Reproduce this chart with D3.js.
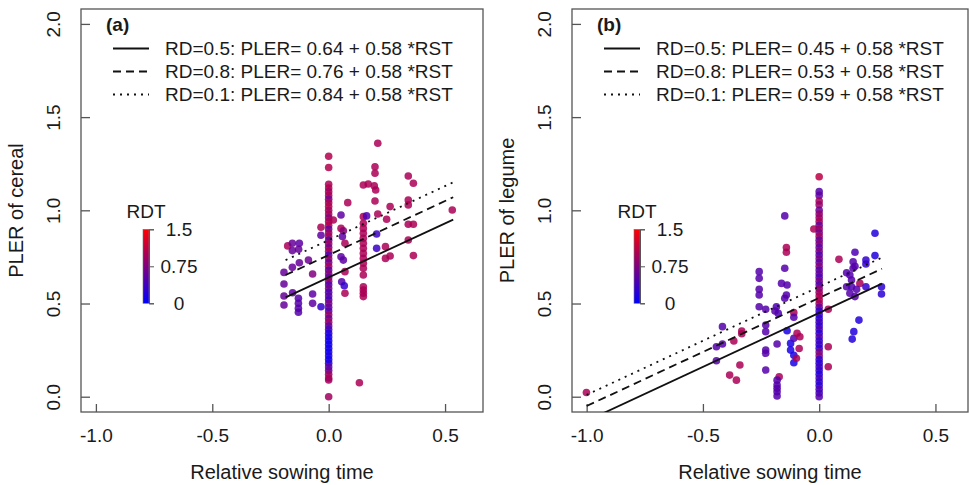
<!DOCTYPE html>
<html>
<head>
<meta charset="utf-8">
<script src="https://cdn.jsdelivr.net/npm/d3@7"></script>
<style>
  body { margin: 0; background: #fff; }
  text { font-family: "Liberation Sans", Arial, sans-serif; fill: #1a1a1a; }
</style>
</head>
<body>
<div id="chart"></div>
<script>
const width = 969;
const height = 485;

const xTicks = [-1, -0.5, 0, 0.5];
const xTickLabels = ["-1.0", "-0.5", "0.0", "0.5"];
const yTicks = [0, 0.5, 1, 1.5, 2];
const yTickLabels = ["0.0", "0.5", "1.0", "1.5", "2.0"];
const rdtTicks = [0, 0.75, 1.5];
const rdtTickLabels = ["0", "0.75", "1.5"];

const rdLabels = ["RD=0.5", "RD=0.8", "RD=0.1"];
const slope = 0.58;
const cerealIntercepts = [0.64, 0.76, 0.84];
const legumeIntercepts = [0.45, 0.53, 0.59];
const cerealFitRange = [-0.185, 0.535];
const legumeFitRange = [-1.0, 0.27];

// [RST, PLER, RDT]
const cerealPoints = [
  [-0.176, 0.809, 1.0], [-0.156, 0.823, 0.6], [-0.126, 0.823, 0.55], [-0.156, 0.784, 0.6],
  [-0.129, 0.791, 0.6], [-0.192, 0.667, 0.6], [-0.156, 0.694, 0.6], [-0.126, 0.719, 0.6],
  [-0.087, 0.733, 0.65], [-0.069, 0.658, 0.75], [-0.192, 0.605, 0.6], [-0.192, 0.540, 0.6],
  [-0.192, 0.492, 0.6], [-0.155, 0.558, 0.55], [-0.130, 0.528, 0.5], [-0.130, 0.501, 0.5],
  [-0.130, 0.474, 0.5], [-0.130, 0.453, 0.5], [-0.069, 0.551, 0.55], [-0.069, 0.501, 0.55],
  [-0.033, 0.483, 0.3], [-0.033, 0.909, 1.0], [-0.033, 0.866, 0.55],
  // RST = 0 column
  [0, 1.29, 1.05], [0, 1.23, 1.05], [0, 1.14, 1.0], [0, 1.12, 1.05], [0, 1.10, 0.95], [0, 1.08, 1.0],
  [0, 1.06, 0.7], [0, 1.04, 1.0], [0, 1.02, 1.05], [0, 1.00, 0.95], [0, 0.98, 1.0], [0, 0.96, 0.8],
  [0, 0.94, 1.0], [0, 0.92, 1.05], [0, 0.90, 0.6], [0, 0.88, 0.9], [0, 0.86, 1.0], [0, 0.84, 0.55],
  [0, 0.82, 0.95], [0, 0.80, 0.7], [0, 0.78, 1.0], [0, 0.76, 0.5], [0, 0.74, 0.9], [0, 0.72, 0.65],
  [0, 0.70, 1.0], [0, 0.68, 0.55], [0, 0.66, 0.8], [0, 0.64, 0.6], [0, 0.62, 0.9], [0, 0.60, 0.5],
  [0, 0.58, 0.7], [0, 0.56, 0.45], [0, 0.54, 0.55], [0, 0.52, 0.4], [0, 0.50, 0.75], [0, 0.48, 0.6],
  [0, 0.46, 0.5], [0, 0.44, 0.9], [0, 0.42, 0.65], [0, 0.40, 0.95], [0, 0.38, 0.6], [0, 0.36, 0.4],
  [0, 0.34, 0.2], [0, 0.32, 0.15], [0, 0.30, 0.12], [0, 0.28, 0.1], [0, 0.26, 0.12], [0, 0.24, 0.1],
  [0, 0.22, 0.15], [0, 0.20, 0.1], [0, 0.18, 0.2], [0, 0.16, 0.55], [0, 0.14, 0.6], [0, 0.12, 0.9],
  [0, 0.10, 1.0], [0, 0.09, 0.95], [0, 0.0, 0.95],
  // right of zero
  [0.020, 0.948, 1.0], [0.053, 0.975, 0.55], [0.053, 0.903, 1.0], [0.063, 0.890, 0.8],
  [0.059, 0.859, 0.55], [0.053, 0.751, 0.55], [0.063, 0.733, 0.55], [0.070, 0.823, 1.0],
  [0.070, 0.671, 1.0], [0.056, 0.617, 0.5], [0.067, 0.595, 0.3], [0.070, 0.555, 1.0],
  [0.082, 1.041, 1.0], [0.132, 0.075, 1.0],
  [0.149, 1.136, 1.0], [0.149, 0.966, 1.0], [0.149, 0.930, 1.0], [0.149, 0.903, 1.0], [0.149, 0.877, 1.0],
  [0.149, 0.850, 1.0], [0.149, 0.823, 1.0], [0.149, 0.796, 1.0], [0.149, 0.769, 1.0], [0.149, 0.742, 1.0],
  [0.149, 0.716, 1.0], [0.149, 0.689, 1.0], [0.149, 0.653, 1.0], [0.149, 0.590, 1.0], [0.149, 0.572, 1.0],
  [0.149, 0.555, 1.0], [0.149, 0.537, 1.0],
  [0.170, 1.141, 1.0], [0.196, 1.131, 1.0], [0.202, 1.109, 1.0], [0.199, 1.234, 1.0], [0.199, 1.199, 1.0],
  [0.199, 1.050, 1.0], [0.211, 1.360, 1.0], [0.163, 0.970, 0.45], [0.211, 0.980, 1.0], [0.249, 0.952, 1.0],
  [0.264, 1.020, 1.0], [0.206, 0.873, 0.35], [0.206, 0.796, 0.35], [0.244, 0.805, 1.0], [0.244, 0.742, 1.0],
  [0.264, 0.755, 1.0], [0.342, 1.184, 1.0], [0.364, 1.145, 1.0], [0.342, 1.055, 1.0], [0.342, 1.029, 1.0],
  [0.342, 0.925, 1.0], [0.364, 0.925, 1.0], [0.342, 0.841, 1.0], [0.364, 0.757, 1.0], [0.531, 1.002, 1.0]
];

const legumePoints = [
  [-1.001, 0.023, 1.0], [-0.416, 0.376, 0.5], [-0.442, 0.268, 0.5], [-0.416, 0.283, 0.5],
  [-0.442, 0.193, 0.5], [-0.367, 0.299, 1.0], [-0.333, 0.352, 1.0], [-0.333, 0.338, 1.0],
  [-0.385, 0.116, 1.0], [-0.356, 0.089, 1.0], [-0.341, 0.170, 1.0],
  [-0.258, 0.671, 0.5], [-0.258, 0.635, 0.5], [-0.258, 0.576, 0.5], [-0.258, 0.546, 0.5], [-0.258, 0.483, 0.5],
  [-0.230, 0.469, 0.5], [-0.230, 0.385, 0.5], [-0.230, 0.349, 0.5], [-0.230, 0.250, 0.5], [-0.230, 0.233, 0.5],
  [-0.230, 0.143, 0.5], [-0.184, 0.483, 0.45], [-0.176, 0.447, 0.45], [-0.190, 0.460, 0.5],
  [-0.181, 0.283, 0.5], [-0.172, 0.107, 1.0],
  [-0.181, 0.089, 0.5], [-0.181, 0.063, 0.5], [-0.181, 0.045, 0.5], [-0.181, 0.027, 0.5], [-0.181, 0.004, 0.5],
  [-0.148, 0.970, 0.5], [-0.141, 0.800, 1.0], [-0.141, 0.775, 1.0], [-0.148, 0.689, 0.5],
  [-0.162, 0.608, 0.5], [-0.138, 0.599, 0.5], [-0.141, 0.546, 0.5], [-0.148, 0.528, 0.5],
  [-0.109, 0.451, 1.0], [-0.109, 0.426, 0.5], [-0.138, 0.354, 0.15], [-0.123, 0.286, 0.15],
  [-0.123, 0.250, 0.15], [-0.109, 0.222, 0.15], [-0.109, 0.182, 0.15], [-0.109, 0.313, 0.45],
  [-0.095, 0.340, 1.0], [-0.083, 0.322, 1.0], [-0.086, 0.259, 1.0], [-0.098, 0.206, 1.0],
  [-0.023, 0.900, 1.0],
  // RST = 0 column
  [0, 1.18, 1.1], [0, 1.10, 0.5], [0, 1.08, 0.55], [0, 1.05, 0.95], [0, 1.03, 0.9], [0, 1.00, 0.6],
  [0, 0.98, 0.85], [0, 0.96, 0.9], [0, 0.94, 1.0], [0, 0.92, 0.6], [0, 0.90, 0.9], [0, 0.88, 0.7],
  [0, 0.86, 0.95], [0, 0.84, 0.6], [0, 0.82, 0.8], [0, 0.80, 0.55], [0, 0.78, 0.75], [0, 0.76, 0.5],
  [0, 0.74, 0.7], [0, 0.72, 0.55], [0, 0.70, 0.8], [0, 0.68, 0.5], [0, 0.66, 0.6], [0, 0.64, 0.45],
  [0, 0.62, 0.7], [0, 0.60, 0.5], [0, 0.58, 0.8], [0, 0.56, 0.9], [0, 0.54, 1.0], [0, 0.52, 1.05],
  [0, 0.50, 0.95], [0, 0.48, 0.6], [0, 0.46, 0.3], [0, 0.44, 0.35], [0, 0.42, 0.25], [0, 0.40, 0.4],
  [0, 0.38, 0.3], [0, 0.36, 0.45], [0, 0.34, 0.25], [0, 0.32, 0.5], [0, 0.30, 0.3], [0, 0.28, 0.35],
  [0, 0.26, 0.25], [0, 0.24, 0.7], [0, 0.22, 0.8], [0, 0.20, 0.3], [0, 0.18, 0.25], [0, 0.16, 0.35],
  [0, 0.14, 0.3], [0, 0.12, 0.2], [0, 0.10, 0.4], [0, 0.08, 0.3], [0, 0.06, 0.25], [0, 0.04, 0.45],
  [0, 0.02, 0.4], [0, 0.0, 0.5],
  // right of zero
  [0.039, 0.469, 1.0], [0.039, 0.268, 1.0], [0.039, 0.161, 1.0], [0.085, 0.737, 1.0],
  [0.118, 0.665, 0.5], [0.118, 0.590, 0.5], [0.132, 0.653, 0.5], [0.146, 0.724, 0.5],
  [0.154, 0.700, 0.5], [0.146, 0.689, 0.5], [0.154, 0.775, 0.45], [0.139, 0.626, 0.5],
  [0.175, 0.608, 1.0], [0.132, 0.555, 0.5], [0.154, 0.537, 0.5], [0.139, 0.590, 0.45],
  [0.161, 0.576, 0.5], [0.171, 0.411, 0.2], [0.149, 0.349, 0.2], [0.142, 0.309, 0.2],
  [0.201, 0.733, 0.3], [0.201, 0.712, 0.3], [0.201, 0.590, 0.3], [0.240, 0.877, 0.2],
  [0.240, 0.757, 0.2], [0.268, 0.590, 0.25], [0.268, 0.551, 0.25]
];

const lineDash = [null, "8,5", "2,5"];
const color = d3.scaleLinear().domain([0, 1.5]).range(["blue", "red"]).interpolate(d3.interpolateRgb);

const svg = d3.select("#chart").append("svg")
  .attr("width", width)
  .attr("height", height);

const defs = svg.append("defs");
const grad = defs.append("linearGradient")
  .attr("id", "rdtGrad")
  .attr("x1", 0).attr("y1", 1).attr("x2", 0).attr("y2", 0);
d3.range(0, 1.51, 0.25).forEach(v => {
  grad.append("stop").attr("offset", v / 1.5).attr("stop-color", color(v));
});

const panels = [
  { id: "a", tag: "(a)", ylabel: "PLER of cereal", points: cerealPoints, intercepts: cerealIntercepts,
    fit: cerealFitRange, left: 81, right: 483, xdom: [-1.064, 0.663] },
  { id: "b", tag: "(b)", ylabel: "PLER of legume", points: legumePoints, intercepts: legumeIntercepts,
    fit: legumeFitRange, left: 572, right: 968, xdom: [-1.063, 0.640] }
];

const plotTop = 9, plotBottom = 412;
const y = d3.scaleLinear().domain([-0.082, 2.08]).range([plotBottom, plotTop]);

panels.forEach(p => {
  const x = d3.scaleLinear().domain(p.xdom).range([p.left, p.right]);
  const g = svg.append("g");

  defs.append("clipPath").attr("id", "clip-" + p.id)
    .append("rect")
    .attr("x", p.left).attr("y", plotTop)
    .attr("width", p.right - p.left).attr("height", plotBottom - plotTop);

  // axes, ticks pointing inward
  const xAxis = g.append("g")
    .attr("transform", `translate(0,${plotBottom})`)
    .call(d3.axisBottom(x).tickValues(xTicks).tickSize(-8).tickPadding(17)
      .tickFormat((d, i) => xTickLabels[i]));
  const yAxis = g.append("g")
    .attr("transform", `translate(${p.left},0)`)
    .call(d3.axisLeft(y).tickValues(yTicks).tickSize(-9)
      .tickFormat((d, i) => yTickLabels[i]));
  [xAxis, yAxis].forEach(a => {
    a.select(".domain").remove();
    a.selectAll("line").attr("stroke", "#555").attr("stroke-width", 1.3);
    a.selectAll("text").style("font-size", "19px").attr("fill", "#1a1a1a");
  });
  yAxis.selectAll("text")
    .attr("x", 0).attr("dy", "0.35em")
    .attr("text-anchor", "middle")
    .attr("transform", "translate(-28,0) rotate(-90)");

  g.append("rect")
    .attr("x", p.left).attr("y", plotTop)
    .attr("width", p.right - p.left).attr("height", plotBottom - plotTop)
    .attr("fill", "none").attr("stroke", "#555").attr("stroke-width", 1.3);

  // points
  g.append("g").attr("clip-path", `url(#clip-${p.id})`)
    .selectAll("circle")
    .data(p.points)
    .enter().append("circle")
    .attr("cx", d => x(d[0]))
    .attr("cy", d => y(d[1]))
    .attr("r", 3.8)
    .attr("fill", d => color(d[2]))
    .attr("fill-opacity", 0.85);

  // fitted lines
  g.append("g").attr("clip-path", `url(#clip-${p.id})`)
    .selectAll("line")
    .data(p.intercepts)
    .enter().append("line")
    .attr("x1", x(p.fit[0])).attr("x2", x(p.fit[1]))
    .attr("y1", d => y(d + slope * p.fit[0]))
    .attr("y2", d => y(d + slope * p.fit[1]))
    .attr("stroke", "#111").attr("stroke-width", 1.8)
    .attr("stroke-dasharray", (d, i) => lineDash[i]);

  // legend
  const lx = p.left + 32;
  g.append("text").attr("x", lx - 7).attr("y", 24).attr("dy", "0.35em")
    .style("font-size", "19px").style("font-weight", "bold").text(p.tag);
  const leg = g.selectAll(".leg").data(p.intercepts).enter().append("g")
    .attr("transform", (d, i) => `translate(${lx},${48.5 + i * 23})`);
  leg.append("line").attr("x1", 0).attr("x2", 36)
    .attr("stroke", "#111").attr("stroke-width", 1.8)
    .attr("stroke-dasharray", (d, i) => lineDash[i]);
  leg.append("text").attr("x", 52).attr("dy", "0.35em").style("font-size", "19px")
    .text((d, i) => `${rdLabels[i]}: PLER= ${d.toFixed(2)} + ${slope.toFixed(2)} *RST`);

  // colour bar
  const cbx = p.left + 62;
  const cb = d3.scaleLinear().domain([0, 1.5]).range([303.3, 229.3]);
  g.append("rect").attr("x", cbx).attr("y", cb(1.5))
    .attr("width", 6).attr("height", cb(0) - cb(1.5))
    .attr("fill", "url(#rdtGrad)").attr("stroke", "#777").attr("stroke-width", 0.6);
  const cbAxis = g.append("g").attr("transform", `translate(${cbx + 6},0)`)
    .call(d3.axisRight(cb).tickValues(rdtTicks).tickSize(5).tickPadding(6)
      .tickFormat((d, i) => rdtTickLabels[i]));
  cbAxis.select(".domain").attr("stroke", "#555");
  cbAxis.selectAll("line").attr("stroke", "#555");
  cbAxis.selectAll("text").style("font-size", "19px").attr("fill", "#1a1a1a")
    .attr("text-anchor", "middle").attr("x", 30);
  g.append("text").attr("x", cbx + 3).attr("y", 211).attr("dy", "0.35em")
    .attr("text-anchor", "middle").style("font-size", "19px").text("RDT");

  // axis titles
  g.append("text")
    .attr("transform", `translate(${p.left - 65},${(plotTop + plotBottom) / 2}) rotate(-90)`)
    .attr("text-anchor", "middle").attr("dy", "0.35em")
    .style("font-size", "20px").text(p.ylabel);
  g.append("text")
    .attr("x", (p.left + p.right) / 2).attr("y", 472).attr("dy", "0.35em")
    .attr("text-anchor", "middle").style("font-size", "20px").text("Relative sowing time");
});
</script>
</body>
</html>
